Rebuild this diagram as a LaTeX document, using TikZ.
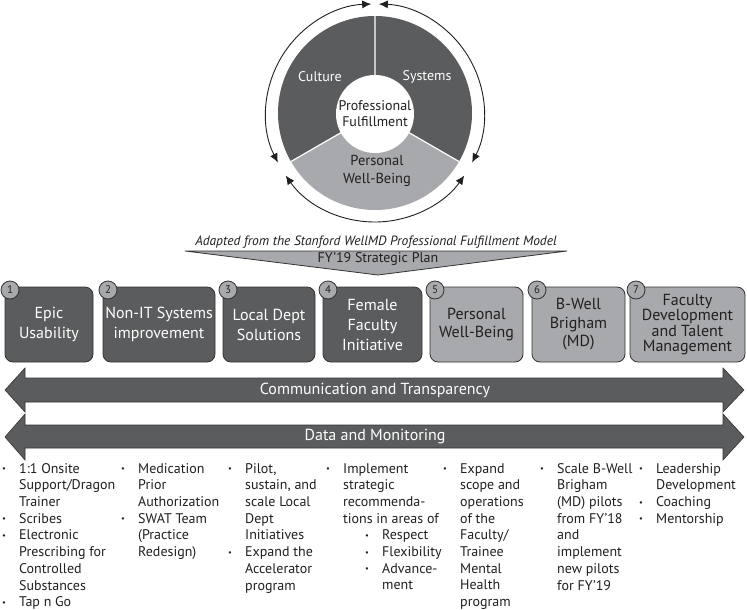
\documentclass[tikz,border=0pt]{standalone}
\usepackage{fontspec}
\setmainfont{PT Sans}
\usepackage{graphicx}
\usetikzlibrary{arrows.meta,calc}
\definecolor{dk}{HTML}{5B5C5E}
\definecolor{lt}{HTML}{A7A9AC}
\definecolor{ln}{HTML}{333333}
\definecolor{tx}{HTML}{231F20}
\newcommand{\mybul}{\makebox[17pt][l]{\raisebox{1.5pt}{\scalebox{0.6}{\textbullet}}}}
\newcommand{\myind}{\hspace*{17pt}}
\begin{document}
\begin{tikzpicture}[x=1pt,y=1pt,
  box/.style={draw=ln, line width=0.8pt, rounded corners=8pt, minimum height=75pt, align=center, inner sep=0pt, font=\fontsize{16}{20}\selectfont},
  darkbox/.style={box, fill=dk, text=white},
  lightbox/.style={box, fill=lt, text=tx},
  num/.style={circle, draw=ln, fill=lt, line width=0.8pt, minimum size=18pt, inner sep=0pt, font=\fontsize{11}{11}\selectfont, text=tx},
  col/.style={anchor=north west, align=left, inner sep=0pt, font=\fontsize{14}{16.7}\selectfont, text=tx},
  band/.style={fill=dk, draw=ln, line width=0.6pt},
  bandtext/.style={text=white, font=\fontsize{16}{16}\selectfont, inner sep=0pt},
  ring/.style={line width=0.9pt, draw=tx, {Latex[length=9pt,width=8pt]}-{Latex[length=9pt,width=8pt]}},
  pielabel/.style={font=\fontsize{14}{16}\selectfont, align=center, inner sep=0pt}
]
\fill[white] (0,0) rectangle (747,-610);
\useasboundingbox (0,0) rectangle (747,-610);

% pie
\coordinate (pc) at (375,-113);
\fill[dk] (pc) -- ++(90:97) arc[start angle=90,end angle=210,radius=97] -- cycle;
\fill[dk] (pc) -- ++(-30:97) arc[start angle=-30,end angle=90,radius=97] -- cycle;
\fill[lt] (pc) -- ++(210:97) arc[start angle=210,end angle=330,radius=97] -- cycle;
\draw[white, line width=1.2pt] (pc) -- ++(90:97) (pc) -- ++(210:97) (pc) -- ++(330:97);
\node[circle, fill=white, minimum size=78pt, inner sep=0pt, pielabel, text=tx] (core) at (375,-114) {Professional\\Fulfillment};
\node[pielabel, text=white] (culture) at (320,-77) {Culture};
\node[pielabel, text=white] (systems) at (427,-77) {Systems};
\node[pielabel, text=tx, font=\fontsize{14.5}{18}\selectfont] (pwb) at (377,-171) {Personal\\Well-Being};

% ring arrows
\draw[ring] ($(pc)+(207:109)$) arc[start angle=207,end angle=92,radius=109];
\draw[ring] ($(pc)+(215:109)$) arc[start angle=215,end angle=325,radius=109];
\draw[ring] ($(pc)+(333:109)$) arc[start angle=333,end angle=448,radius=109];

% caption and chevron
\node[font=\itshape\fontsize{13.5}{14}\selectfont, text=tx, inner sep=0pt] (cap) at (376,-242) {Adapted from the Stanford WellMD Professional Fulfillment Model};
\draw[fill=lt, draw=ln, line width=0.8pt] (185,-251) -- (567,-251) -- (378,-275) -- cycle;
\node[font=\fontsize{14}{14}\selectfont, text=tx, inner sep=0pt] (plan) at (378,-259) {FY’19 Strategic Plan};

% boxes
\node[darkbox, minimum width=88pt] (b1) at (49,-324.5) {Epic\\Usability};
\node[darkbox, minimum width=112pt] (b2) at (159,-324.5) {Non-IT Systems\\improvement};
\node[darkbox, minimum width=92pt] (b3) at (269,-324.5) {Local Dept\\Solutions};
\node[darkbox, minimum width=99pt] (b4) at (372.5,-324.5) {Female\\Faculty\\Initiative};
\node[lightbox, minimum width=93pt, font=\fontsize{16}{18}\selectfont] (b5) at (476.5,-324.5) {Personal\\Well-Being};
\node[lightbox, minimum width=93pt, font=\fontsize{16}{18.5}\selectfont] (b6) at (578.5,-324.5) {B-Well\\Brigham\\(MD)};
\node[lightbox, minimum width=115pt, font=\fontsize{16}{15.5}\selectfont] (b7) at (687.5,-324.5) {Faculty\\Development\\and Talent\\Management};

\node[num] (n1) at (10,-290) {1};
\node[num] (n2) at (108,-290) {2};
\node[num] (n3) at (228,-290) {3};
\node[num] (n4) at (328,-290) {4};
\node[num] (n5) at (435,-290) {5};
\node[num] (n6) at (537,-290) {6};
\node[num] (n7) at (636,-290) {7};

% bands
\path[band] (5,-390) -- (25,-368) -- (25,-378) -- (723,-378) -- (723,-368) -- (744,-390) -- (723,-412) -- (723,-402) -- (25,-402) -- (25,-412) -- cycle;
\node[bandtext] (comm) at (375,-390) {Communication and Transparency};
\path[band] (5,-437) -- (25,-414) -- (25,-425) -- (723,-425) -- (723,-414) -- (744,-437) -- (723,-460) -- (723,-448) -- (25,-448) -- (25,-460) -- cycle;
\node[bandtext] (data) at (375,-437) {Data and Monitoring};

% bullet columns
\node[col] (c1) at (2,-463) {\mybul 1:1 Onsite\\ \myind Support/Dragon\\ \myind Trainer\\ \mybul Scribes\\ \mybul Electronic\\ \myind Prescribing for\\ \myind Controlled\\ \myind Substances\\ \mybul Tap n Go};
\node[col] (c2) at (121,-463) {\mybul Medication\\ \myind Prior\\ \myind Authorization\\ \mybul SWAT Team\\ \myind (Practice\\ \myind Redesign)};
\node[col] (c3) at (228,-463) {\mybul Pilot,\\ \myind sustain, and\\ \myind scale Local\\ \myind Dept\\ \myind Initiatives\\ \mybul Expand the\\ \myind Accelerator\\ \myind program};
\node[col] (c4) at (326,-463) {\mybul Implement\\ \myind strategic\\ \myind recommenda-\\ \myind tions in areas of\\ \hspace*{39pt}\mybul Respect\\ \hspace*{39pt}\mybul Flexibility\\ \hspace*{39pt}\mybul Advance-\\ \hspace*{56pt}ment};
\node[col] (c5) at (443,-463) {\mybul Expand\\ \myind scope and\\ \myind operations\\ \myind of the\\ \myind Faculty/\\ \myind Trainee\\ \myind Mental\\ \myind Health\\ \myind program};
\node[col] (c6) at (540,-463) {\mybul Scale B-Well\\ \myind Brigham\\ \myind (MD) pilots\\ \myind from FY’18\\ \myind and\\ \myind implement\\ \myind new pilots\\ \myind for FY’19};
\node[col] (c7) at (639,-463) {\mybul Leadership\\ \myind Development\\ \mybul Coaching\\ \mybul Mentorship};
\end{tikzpicture}
\end{document}
